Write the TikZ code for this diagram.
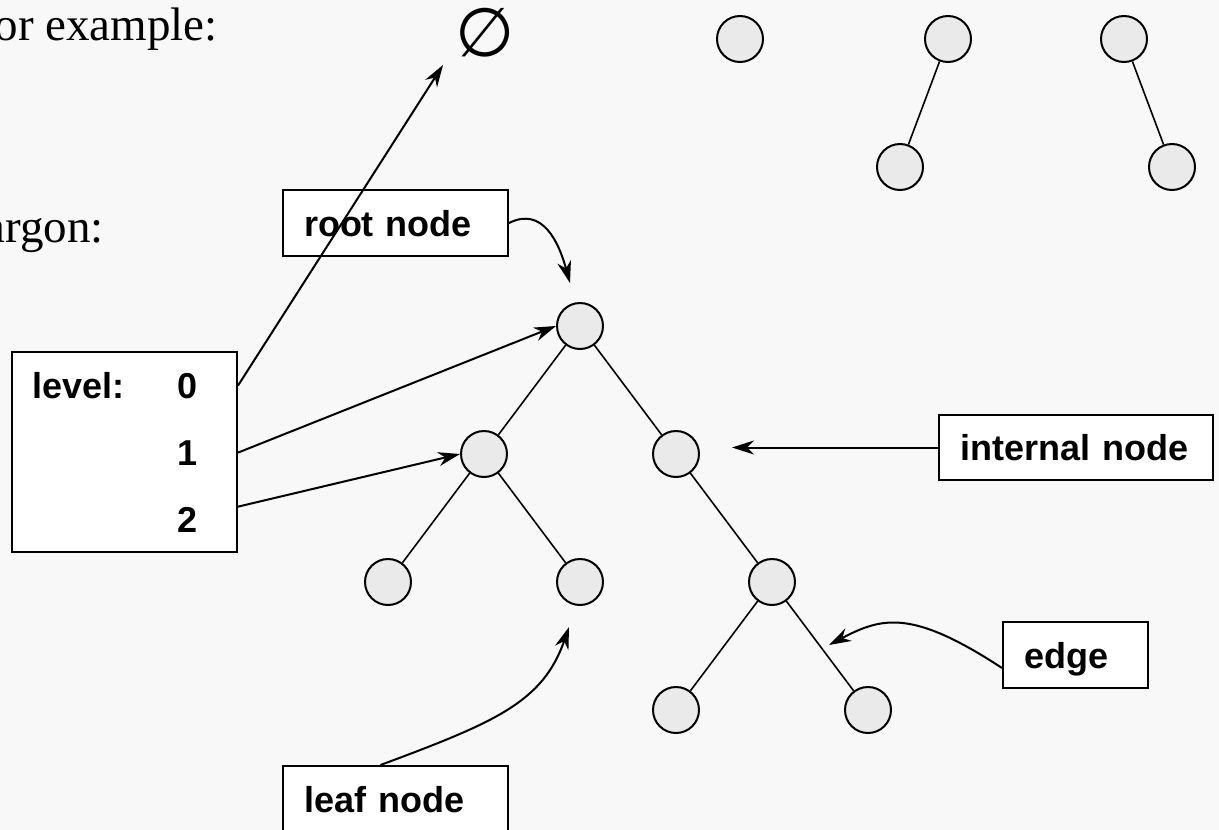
\documentclass[tikz,border=0pt]{standalone}
\usepackage{fontspec}
\setmainfont{Liberation Serif}
\setsansfont{Liberation Sans}
\newfontfamily\symfont{DejaVu Sans}
\usetikzlibrary{arrows.meta,calc}
\definecolor{bgcol}{HTML}{F8F8F8}
\definecolor{nodecol}{HTML}{EAEAEA}
\begin{document}
\begin{tikzpicture}[x=1pt,y=-1pt,
  tnode/.style={circle,draw,line width=2pt,fill=nodecol,inner sep=0pt,minimum size=46pt},
  tedge/.style={line width=1.6pt},
  lbox/.style={draw,line width=2pt,fill=white,inner xsep=21pt,inner ysep=0pt,align=left,
    font=\fontsize{36}{40}\selectfont\sffamily\bfseries,text height=26pt,text depth=0pt,minimum height=66pt},
  lbl/.style={inner sep=0pt,anchor=base west,font=\fontsize{36}{40}\selectfont\sffamily\bfseries},
  serif/.style={inner sep=0pt,anchor=base east,font=\fontsize{47}{56}\selectfont},
  ptr/.style={line width=2pt,-{Stealth[length=22pt,width=14pt,inset=7pt]}}
]
\fill[bgcol] (0,0) rectangle (1219,830);
\useasboundingbox (0,0) rectangle (1219,830);

% serif texts
\node[serif] (forex) at (218,40) {For example:};
\node[serif] (jargon) at (104,242) {Jargon:};
\node[inner sep=0pt,font=\symfont\fontsize{68}{68}\selectfont] (empty) at (485,33) {∅};

% small example trees
\node[tnode] (t1) at (740,39) {};
\node[tnode] (t2) at (948,39) {};
\node[tnode] (t2c) at (900,167) {};
\node[tnode] (t3) at (1124,39) {};
\node[tnode] (t3c) at (1172,167) {};
\draw[tedge] (t2) -- (t2c);
\draw[tedge] (t3) -- (t3c);

% main tree
\node[tnode] (r) at (580,326) {};
\node[tnode] (a) at (484,454) {};
\node[tnode] (b) at (676,454) {};
\node[tnode] (aa) at (388,582) {};
\node[tnode] (ab) at (580,582) {};
\node[tnode] (bb) at (772,582) {};
\node[tnode] (bba) at (676,710) {};
\node[tnode] (bbb) at (868,710) {};
\draw[tedge] (r) -- (a);
\draw[tedge] (r) -- (b);
\draw[tedge] (a) -- (aa);
\draw[tedge] (a) -- (ab);
\draw[tedge] (b) -- (bb);
\draw[tedge] (bb) -- (bba);
\draw[tedge] (bb) -- (bbb);

% level box
\node[draw,line width=2pt,fill=white,minimum width=225pt,minimum height=200pt,inner sep=0pt] (lvl) at (124.5,452) {};
\node[lbl] (lvltxt) at (32,398) {level:};
\node[lbl] (l0) at (177,398) {0};
\node[lbl] (l1) at (177,465) {1};
\node[lbl] (l2) at (177,532) {2};

% label boxes
\node[lbox,text width=183pt] (rootbox) at (395.5,223) {root node};
\node[lbox,text width=183pt] (leafbox) at (395.5,799) {leaf node};
\node[lbox,text width=232pt,minimum height=65pt] (intbox) at (1076,447.5) {internal node};
\node[lbox,text width=103pt] (edgebox) at (1075.5,655) {edge};

% arrow targets
\coordinate (emptytip) at (443,65);
\coordinate (roottip) at (570,283);
\coordinate (inttip) at (732,447.5);
\coordinate (edgetip) at (829,645);
\coordinate (leaftip) at (569,627);

% arrows
\draw[ptr] (lvl.east |- l0.center) -- (emptytip);
\draw[ptr] (lvl.east |- l1.center) -- (r.west);
\draw[ptr] (lvl.east |- l2.north) -- (a.west);
\draw[ptr] (rootbox.east) .. controls (543,206) and (559,243) .. (roottip);
\draw[ptr] (intbox.west) -- (inttip);
\draw[ptr] ($(edgebox.west)+(0,13)$) .. controls (912,609) and (882,617) .. (edgetip);
\draw[ptr] ($(leafbox.north)+(-15,0)$) .. controls (496,722) and (543,702) .. (leaftip);
\end{tikzpicture}
\end{document}
